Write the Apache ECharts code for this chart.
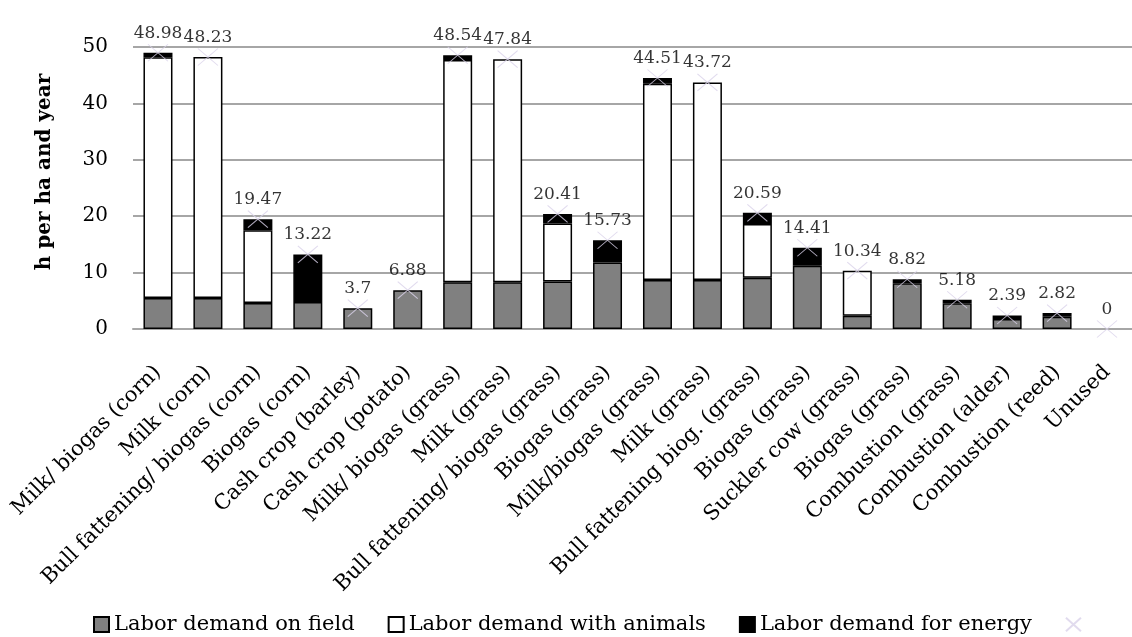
<!DOCTYPE html>
<html>
<head>
<meta charset="utf-8">
<script src="https://cdn.jsdelivr.net/npm/echarts@6/dist/echarts.min.js"></script>
<style>
  html, body { margin: 0; padding: 0; background: #fff; }
  #main { width: 1132px; height: 637px; }
</style>
</head>
<body>
<div id="main"></div>
<script>
// labor demand per land use
var categories = [
    'Milk/ biogas (corn)', 'Milk (corn)', 'Bull fattening/ biogas (corn)', 'Biogas (corn)',
    'Cash crop (barley)', 'Cash crop (potato)', 'Milk/ biogas (grass)', 'Milk (grass)',
    'Bull fattening/ biogas (grass)', 'Biogas (grass)', 'Milk/biogas (grass)', 'Milk (grass)',
    'Bull fattening biog. (grass)', 'Biogas (grass)', 'Suckler cow (grass)', 'Biogas (grass)',
    'Combustion (grass)', 'Combustion (alder)', 'Combustion (reed)', 'Unused'
];
var fieldDemand   = [5.5, 5.5, 4.6, 4.8, 3.7, 6.88, 8.3, 8.3, 8.4, 11.8, 8.7, 8.7, 9.1, 11.2, 2.37, 8.1, 4.55, 1.77, 2.18, 0];
var animalDemand  = [42.7, 42.73, 12.9, 0, 0, 0, 39.4, 39.54, 10.3, 0, 34.8, 35.02, 9.5, 0, 7.97, 0, 0, 0, 0, 0];
var energyDemand  = [0.78, 0, 1.97, 8.42, 0, 0, 0.84, 0, 1.71, 3.93, 1.01, 0, 1.99, 3.21, 0, 0.72, 0.63, 0.62, 0.64, 0];
var totalDemand   = [48.98, 48.23, 19.47, 13.22, 3.7, 6.88, 48.54, 47.84, 20.41, 15.73, 44.51, 43.72, 20.59, 14.41, 10.34, 8.82, 5.18, 2.39, 2.82, 0];

var font = 'DejaVu Serif';
var crossPath = 'path://M0,0L20,18M20,0L0,18';

function barSeries(name, color, values) {
    return {
        name: name,
        type: 'bar',
        stack: 'labor',
        barWidth: 29,
        itemStyle: { color: color, borderColor: '#000', borderWidth: 1.5 },
        // empty segments are not drawn
        data: values.map(function (v) { return v === 0 ? '-' : v; })
    };
}

option = {
    backgroundColor: '#fff',
    animation: false,
    textStyle: { fontFamily: font, color: '#000' },
    grid: { left: 133, right: -9, top: 47, bottom: 308 },
    legend: {
        left: 88,
        top: 609,
        itemWidth: 15,
        itemHeight: 15,
        itemGap: 33,
        textStyle: { fontFamily: font, fontSize: 21, color: '#000' },
        data: [
            { name: 'Labor demand on field', icon: 'rect' },
            { name: 'Labor demand with animals', icon: 'rect' },
            { name: 'Labor demand for energy', icon: 'rect' },
            { name: ' ' }
        ]
    },
    xAxis: {
        type: 'category',
        data: categories,
        axisLine: { lineStyle: { color: '#a6a6a6', width: 2 } },
        axisTick: { show: false },
        axisLabel: {
            interval: 0,
            rotate: 45,
            margin: 40,
            fontFamily: font,
            fontSize: 21,
            color: '#000'
        }
    },
    yAxis: {
        type: 'value',
        min: 0,
        max: 50,
        interval: 10,
        name: 'h per ha and year',
        nameLocation: 'middle',
        nameGap: 78,
        nameTextStyle: { fontFamily: font, fontSize: 20, fontWeight: 'bold', color: '#000', padding: [0, 0, 0, 32] },
        axisLine: { show: false },
        axisTick: { show: false },
        axisLabel: { margin: 25, fontFamily: font, fontSize: 20, color: '#000' },
        splitLine: { lineStyle: { color: '#a6a6a6', width: 2 } }
    },
    series: [
        barSeries('Labor demand on field', '#808080', fieldDemand),
        barSeries('Labor demand with animals', '#ffffff', animalDemand),
        barSeries('Labor demand for energy', '#000000', energyDemand),
        {
            name: ' ',
            type: 'scatter',
            symbol: crossPath,
            symbolSize: [20, 17],
            z: 5,
            itemStyle: { color: 'rgba(0,0,0,0)', borderColor: '#d9d2ea', borderWidth: 1 },
            label: {
                show: true,
                position: 'top',
                distance: 2,
                fontFamily: font,
                fontSize: 17,
                color: '#000'
            },
            data: totalDemand
        }
    ]
};

var myChart = echarts.init(document.getElementById('main'));
myChart.setOption(option);
</script>
</body>
</html>
